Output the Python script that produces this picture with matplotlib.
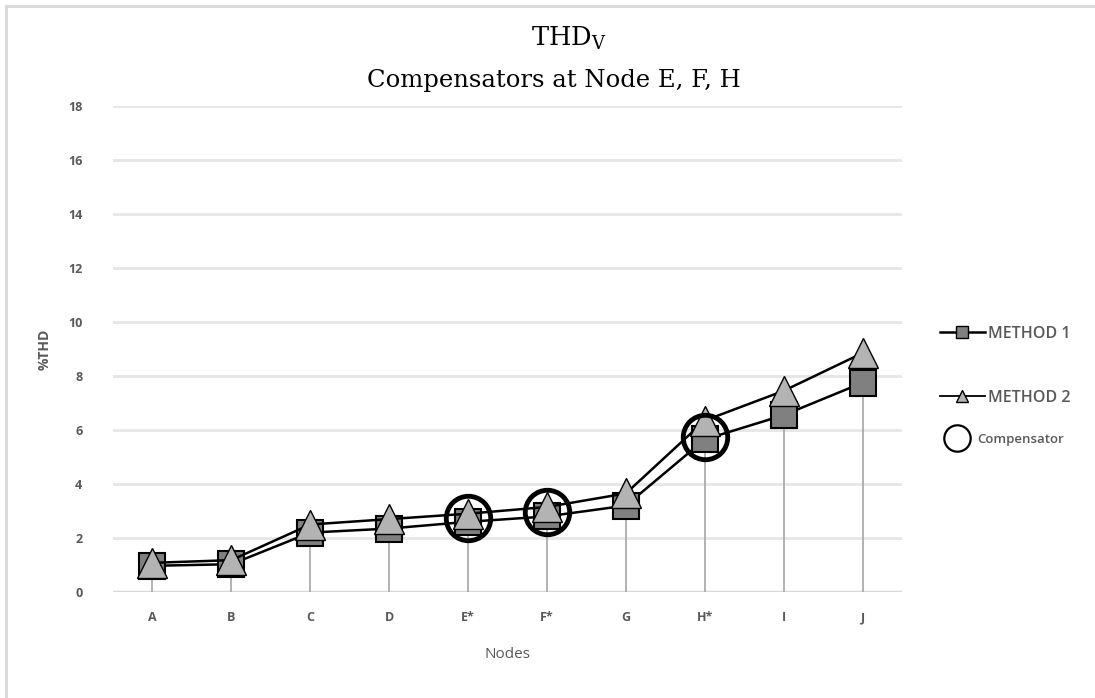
import matplotlib
matplotlib.use("Agg")
import matplotlib.pyplot as plt
from matplotlib.lines import Line2D
import numpy as np

nodes = ["A", "B", "C", "D", "E*", "F*", "G", "H*", "I", "J"]
method1 = [0.97, 1.03, 2.2, 2.35, 2.6, 2.8, 3.2, 5.65, 6.55, 7.75]
method2 = [1.08, 1.18, 2.5, 2.7, 2.9, 3.15, 3.65, 6.35, 7.45, 8.85]
comp_nodes = ["E*", "F*", "H*"]
comp_values = [2.75, 2.95, 5.75]
yticks = [0, 2, 4, 6, 8, 10, 12, 14, 16, 18]

W, H = 1095, 698
fig = plt.figure(figsize=(W / 100, H / 100), dpi=100)
ax = fig.add_axes([113 / W, 1 - 592 / H, 789 / W, 486 / H])

x = np.arange(len(nodes))
tick_col = "#595959"

# gridlines
for y in yticks[1:]:
    ax.axhline(y, color="#e6e6e6", lw=2, zorder=0)
ax.axhline(0, color="#d9d9d9", lw=2.5, zorder=1)

# drop lines
top = np.maximum(method1, method2)
ax.vlines(x, 0, top, color="#a6a6a6", lw=1.2, zorder=1)

ax.plot(x, method1, color="black", lw=1.8, marker="s", ms=19,
        mfc="#808080", mec="black", mew=1.5, zorder=3)
ax.plot(x, method2, color="black", lw=1.8, marker="^", ms=21,
        mfc="#b3b3b3", mec="black", mew=1.0, zorder=4)
cx = [nodes.index(n) for n in comp_nodes]
ax.plot(cx, comp_values, ls="none", marker="o", ms=32, mfc="none",
        mec="black", mew=3.5, zorder=5)

ax.set_xlim(-0.5, len(nodes) - 0.5)
ax.set_ylim(0, 18)
ax.set_yticks(yticks)
ax.set_xticks(x)
ax.set_xticklabels(nodes)
for s in ax.spines.values():
    s.set_visible(False)
ax.tick_params(length=0, colors=tick_col, labelsize=9)
ax.tick_params(axis="y", pad=22)
ax.tick_params(axis="x", pad=14)
for lab in ax.get_xticklabels() + ax.get_yticklabels():
    lab.set_fontweight("bold")
    lab.set_family("Open Sans")
ax.set_xlabel("Nodes", color=tick_col, fontsize=11, labelpad=16, family="Open Sans")
ax.set_ylabel("%THD", color=tick_col, fontsize=10, labelpad=12,
              family="Open Sans", fontweight="bold")

# titles
fig.text(569 / W, 1 - 38 / H, r"THD$_\mathregular{V}$", ha="center", va="center",
         fontsize=18.5, family="DejaVu Serif")
fig.text(554 / W, 1 - 80 / H, "Compensators at Node E, F, H", ha="center",
         va="center", fontsize=17.5, family="DejaVu Serif")

# legend entries
h1 = Line2D([], [], color="black", lw=1.8, marker="s", ms=9, mfc="#808080", mec="black")
h2 = Line2D([], [], color="black", lw=1.3, marker="^", ms=8, mfc="#b3b3b3", mec="black")
h3 = Line2D([], [], ls="none", marker="o", ms=19, mfc="none", mec="black", mew=1.6)
for h, lab, yy, fs, x0, hl in [(h1, "METHOD 1", 334, 11.5, 940, 2.8),
                               (h2, "METHOD 2", 398, 11.5, 940, 2.8),
                               (h3, "Compensator", 439, 9.5, 946, 1.6)]:
    lg = fig.legend([h], [lab], loc="center left",
                    bbox_to_anchor=(x0 / W, 1 - yy / H), frameon=False,
                    handlelength=hl, handletextpad=0.2 if h is not h3 else 0.8,
                    prop={"family": "Open Sans", "size": fs, "weight": "semibold"},
                    borderaxespad=0, borderpad=0)
    for t in lg.get_texts():
        t.set_color(tick_col)

# outer frame (left & top)
fig.add_artist(Line2D([6 / W, 6 / W], [0, 1 - 6 / H], color="#d9d9d9", lw=2))
fig.add_artist(Line2D([6 / W, 1], [1 - 6 / H, 1 - 6 / H], color="#d9d9d9", lw=2))

fig.savefig("out.png", dpi=100)
